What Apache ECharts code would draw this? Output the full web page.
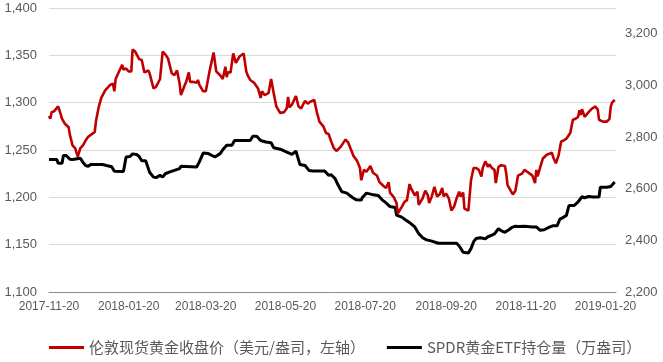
<!DOCTYPE html>
<html>
<head>
<meta charset="utf-8">
<script src="https://cdn.jsdelivr.net/npm/echarts@6/dist/echarts.min.js"></script>
<style>
html,body{margin:0;padding:0;background:#fff;}
#chart{width:663px;height:362px;}
</style>
</head>
<body>
<div id="chart"></div>
<script>
const tickLabels = ['2017-11-20','2018-01-20','2018-03-20','2018-05-20','2018-07-20','2018-09-20','2018-11-20','2019-01-20'];
const axisStart = '2017-11-20';
const axisEnd = '2019-01-28';
const seriesNames = ['伦敦现货黄金收盘价（美元/盎司，左轴）','SPDR黄金ETF持仓量（万盎司）'];

const goldDates = [
'2017-11-20','2017-11-21','2017-11-22','2017-11-24','2017-11-27','2017-11-28','2017-11-30','2017-12-02','2017-12-05','2017-12-06',
'2017-12-08','2017-12-10','2017-12-12','2017-12-14','2017-12-16','2017-12-18','2017-12-20','2017-12-23','2017-12-25','2017-12-26',
'2017-12-28','2017-12-30','2018-01-02','2018-01-06','2018-01-08','2018-01-09','2018-01-10','2018-01-12','2018-01-15','2018-01-16',
'2018-01-18','2018-01-20','2018-01-22','2018-01-23','2018-01-25','2018-01-28','2018-01-30','2018-02-01','2018-02-04','2018-02-05',
'2018-02-08','2018-02-10','2018-02-13','2018-02-15','2018-02-17','2018-02-19','2018-02-22','2018-02-24','2018-02-26','2018-02-28',
'2018-03-01','2018-03-04','2018-03-05','2018-03-07','2018-03-08','2018-03-10','2018-03-13','2018-03-14','2018-03-15','2018-03-18',
'2018-03-20','2018-03-23','2018-03-26','2018-03-28','2018-03-31','2018-04-02','2018-04-04','2018-04-05','2018-04-06','2018-04-08',
'2018-04-10','2018-04-12','2018-04-15','2018-04-18','2018-04-20','2018-04-21','2018-04-23','2018-04-26','2018-04-29','2018-05-01',
'2018-05-02','2018-05-04','2018-05-07','2018-05-09','2018-05-11','2018-05-13','2018-05-16','2018-05-19','2018-05-21','2018-05-22',
'2018-05-23','2018-05-25','2018-05-28','2018-05-30','2018-06-01','2018-06-04','2018-06-06','2018-06-08','2018-06-11','2018-06-13',
'2018-06-14','2018-06-15','2018-06-18','2018-06-20','2018-06-22','2018-06-24','2018-06-26','2018-06-28','2018-07-01','2018-07-03',
'2018-07-05','2018-07-07','2018-07-11','2018-07-14','2018-07-16','2018-07-17','2018-07-19','2018-07-21','2018-07-24','2018-07-26',
'2018-07-29','2018-07-31','2018-08-03','2018-08-05','2018-08-07','2018-08-08','2018-08-11','2018-08-13','2018-08-14','2018-08-17',
'2018-08-19','2018-08-21','2018-08-23','2018-08-24','2018-08-27','2018-08-29','2018-08-30','2018-09-02','2018-09-04','2018-09-06',
'2018-09-07','2018-09-09','2018-09-11','2018-09-13','2018-09-15','2018-09-17','2018-09-18','2018-09-20','2018-09-22','2018-09-24',
'2018-09-26','2018-09-28','2018-09-30','2018-10-01','2018-10-03','2018-10-04','2018-10-07','2018-10-09','2018-10-11','2018-10-13',
'2018-10-15','2018-10-17','2018-10-18','2018-10-20','2018-10-22','2018-10-23','2018-10-25','2018-10-27','2018-10-28','2018-10-30',
'2018-11-01','2018-11-04','2018-11-05','2018-11-06','2018-11-10','2018-11-12','2018-11-14','2018-11-17','2018-11-19','2018-11-21',
'2018-11-23','2018-11-25','2018-11-27','2018-11-28','2018-11-29','2018-12-01','2018-12-03','2018-12-06','2018-12-10','2018-12-11',
'2018-12-13','2018-12-15','2018-12-17','2018-12-19','2018-12-21','2018-12-24','2018-12-26','2018-12-28','2018-12-30','2018-12-31',
'2019-01-01','2019-01-02','2019-01-04','2019-01-07','2019-01-09','2019-01-12','2019-01-14','2019-01-15','2019-01-18','2019-01-19',
'2019-01-21','2019-01-23','2019-01-24','2019-01-25','2019-01-27'
];
const goldPrice = [
1286,1283,1290,1291,1296,1292,1283,1278,1274,1266,
1255,1252,1243,1252,1255,1260,1264,1267,1269,1281,
1295,1305,1313,1319,1320,1312,1325,1331,1340,1335,
1336,1333,1333,1356,1354,1346,1345,1332,1334,1331,
1315,1317,1325,1354,1351,1347,1331,1329,1334,1320,
1308,1319,1322,1332,1322,1322,1321,1324,1319,1312,
1312,1334,1353,1333,1329,1325,1338,1327,1332,1332,
1352,1342,1349,1352,1333,1329,1324,1321,1315,1305,
1312,1308,1310,1325,1310,1296,1289,1290,1294,1306,
1295,1298,1307,1296,1294,1302,1299,1301,1303,1290,
1285,1280,1275,1268,1267,1259,1252,1249,1253,1257,
1261,1258,1244,1238,1231,1218,1229,1227,1233,1226,
1223,1216,1212,1210,1216,1205,1200,1194,1183,1190,
1195,1197,1214,1210,1202,1206,1192,1199,1207,1202,
1194,1201,1211,1201,1203,1210,1201,1204,1199,1186,
1190,1199,1206,1201,1205,1188,1186,1218,1231,1231,
1229,1222,1231,1238,1232,1235,1231,1229,1215,1232,
1234,1233,1225,1213,1203,1207,1223,1225,1229,1227,
1225,1223,1215,1229,1222,1232,1241,1245,1247,1242,
1236,1244,1259,1260,1262,1268,1282,1283,1285,1292,
1287,1293,1285,1290,1293,1296,1293,1282,1280,1282,
1280,1283,1296,1300,1303
];

const etfDates = [
'2017-11-20','2017-11-26','2017-11-27','2017-11-30','2017-12-01','2017-12-03','2017-12-06','2017-12-08','2017-12-14','2017-12-16',
'2017-12-18','2017-12-20','2017-12-22','2017-12-31','2018-01-03','2018-01-07','2018-01-09','2018-01-16','2018-01-18','2018-01-21',
'2018-01-23','2018-01-26','2018-01-28','2018-01-30','2018-02-02','2018-02-05','2018-02-08','2018-02-10','2018-02-13','2018-02-15',
'2018-02-17','2018-02-20','2018-02-24','2018-02-28','2018-03-01','2018-03-13','2018-03-15','2018-03-18','2018-03-22','2018-03-27',
'2018-03-31','2018-04-02','2018-04-05','2018-04-09','2018-04-11','2018-04-23','2018-04-25','2018-04-28','2018-05-01','2018-05-05',
'2018-05-09','2018-05-11','2018-05-16','2018-05-21','2018-05-25','2018-05-28','2018-05-29','2018-05-31','2018-06-04','2018-06-07',
'2018-06-10','2018-06-19','2018-06-22','2018-06-24','2018-06-27','2018-06-29','2018-07-02','2018-07-06','2018-07-10','2018-07-13',
'2018-07-17','2018-07-18','2018-07-21','2018-07-25','2018-07-30','2018-08-02','2018-08-05','2018-08-08','2018-08-12','2018-08-13',
'2018-08-17','2018-08-20','2018-08-24','2018-08-27','2018-08-30','2018-09-02','2018-09-05','2018-09-09','2018-09-14','2018-09-21',
'2018-09-28','2018-09-30','2018-10-03','2018-10-07','2018-10-09','2018-10-11','2018-10-13','2018-10-16','2018-10-17','2018-10-20',
'2018-10-22','2018-10-25','2018-10-27','2018-10-30','2018-11-01','2018-11-04','2018-11-07','2018-11-09','2018-11-12','2018-11-14',
'2018-11-19','2018-11-25','2018-11-28','2018-12-01','2018-12-04','2018-12-08','2018-12-11','2018-12-14','2018-12-16','2018-12-18',
'2018-12-21','2018-12-23','2018-12-27','2018-12-30','2019-01-02','2019-01-04','2019-01-07','2019-01-10','2019-01-15','2019-01-16',
'2019-01-21','2019-01-24','2019-01-27'
];
const etfHoldings = [
2713,2713,2699,2699,2729,2729,2714,2713,2718,2702,
2690,2687,2694,2694,2690,2685,2668,2667,2723,2725,
2735,2733,2725,2708,2708,2664,2645,2643,2652,2645,
2658,2664,2671,2678,2687,2684,2703,2738,2736,2723,
2736,2751,2768,2768,2787,2787,2803,2803,2787,2781,
2778,2759,2753,2742,2733,2746,2729,2694,2690,2671,
2669,2669,2652,2654,2639,2617,2589,2583,2567,2557,
2556,2567,2583,2578,2574,2557,2545,2531,2527,2498,
2490,2479,2465,2452,2426,2410,2402,2397,2389,2389,
2389,2378,2354,2351,2368,2395,2407,2410,2403,2406,
2414,2420,2425,2445,2438,2431,2441,2449,2455,2454,
2455,2452,2452,2439,2441,2451,2457,2457,2482,2487,
2496,2535,2535,2549,2569,2565,2570,2568,2568,2606,
2606,2609,2626
];

function toTime(s){ const p = s.split('-').map(Number); return Date.UTC(p[0], p[1]-1, p[2]); }
function pad(n){ return (n<10?'0':'') + n; }
function fmtDate(v){ const d = new Date(v); return d.getUTCFullYear() + '-' + pad(d.getUTCMonth()+1) + '-' + pad(d.getUTCDate()); }
function commas(v){ return String(v).replace(/\B(?=(\d{3})+(?!\d))/g, ','); }

const goldData = goldDates.map((d,i)=>[toTime(d), goldPrice[i]]);
const etfData = etfDates.map((d,i)=>[toTime(d), etfHoldings[i]]);

const chart = echarts.init(document.getElementById('chart'), null, {renderer:'canvas'});
const labelFont = 'Liberation Sans, Arial, sans-serif';
chart.setOption({
  animation: false,
  backgroundColor: '#ffffff',
  grid: { left: 49, right: 47, top: 8, bottom: 70, containLabel: false },
  legend: {
    data: seriesNames,
    left: 49, top: 340, padding: 0,
    icon: 'rect', itemWidth: 35, itemHeight: 3, itemGap: 22,
    textStyle: { fontSize: 15, color: '#595959', fontFamily: 'Noto Sans CJK SC' }
  },
  xAxis: {
    type: 'value',
    min: toTime(axisStart), max: toTime(axisEnd),
    axisLine: { show: true, onZero: false, lineStyle: { color: '#8c8c8c', width: 1 } },
    axisTick: { show: false },
    splitLine: { show: false },
    axisLabel: {
      customValues: tickLabels.map(toTime),
      formatter: (v)=>fmtDate(v),
      color: '#595959', fontSize: 12, fontFamily: labelFont, margin: 9,
      showMinLabel: true, showMaxLabel: true, hideOverlap: false
    }
  },
  yAxis: [
    {
      type: 'value', position: 'left', min: 1100, max: 1400, interval: 50,
      axisLine: { show: false }, axisTick: { show: false },
      splitLine: { show: true, lineStyle: { color: '#d9d9d9', width: 1 } },
      axisLabel: { formatter: commas, color: '#595959', fontSize: 13, fontFamily: labelFont, margin: 12 }
    },
    {
      type: 'value', position: 'right', min: 2200, max: 3300, interval: 200,
      axisLine: { show: false }, axisTick: { show: false },
      splitLine: { show: false },
      axisLabel: { formatter: commas, color: '#595959', fontSize: 13, fontFamily: labelFont, margin: 9, showMaxLabel: false }
    }
  ],
  series: [
    {
      name: seriesNames[0], type: 'line', yAxisIndex: 0, data: goldData, z: 3,
      showSymbol: false, symbol: 'none', color: '#c00000',
      lineStyle: { color: '#c00000', width: 2.6 }
    },
    {
      name: seriesNames[1], type: 'line', yAxisIndex: 1, data: etfData, z: 2,
      showSymbol: false, symbol: 'none', color: '#000000',
      lineStyle: { color: '#000000', width: 3 }
    }
  ]
});
</script>
</body>
</html>
